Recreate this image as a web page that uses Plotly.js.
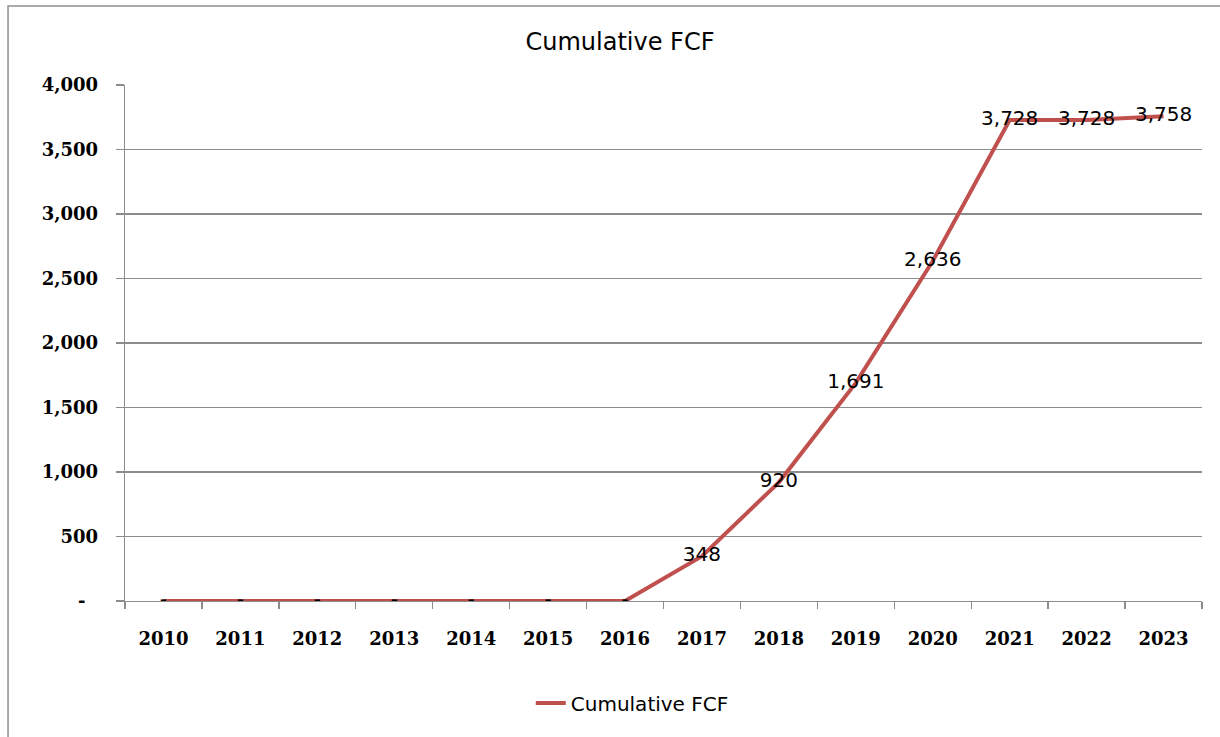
<!DOCTYPE html>
<html>
<head>
<meta charset="utf-8">
<script src="https://cdn.plot.ly/plotly-3.0.1.min.js"></script>
<style>
  html, body { margin: 0; padding: 0; background: #ffffff; }
  #chart { width: 1220px; height: 737px; }
</style>
</head>
<body>
<div id="chart"></div>
<script>
// Cumulative free cash flow by year
const years = ['2010', '2011', '2012', '2013', '2014', '2015', '2016',
               '2017', '2018', '2019', '2020', '2021', '2022', '2023'];
const cumulativeFCF = [0, 0, 0, 0, 0, 0, 0, 348, 920, 1691, 2636, 3728, 3728, 3758];

const yTickVals = [0, 500, 1000, 1500, 2000, 2500, 3000, 3500, 4000];
const yTickText = ['-\u00a0\u00a0', '500', '1,000', '1,500', '2,000', '2,500', '3,000', '3,500', '4,000'];

// Accounting-style labels: zero shows as a dash
const pointLabels = cumulativeFCF.map(v => v === 0 ? '-' : v.toLocaleString('en-US'));

const axisGrey = '#8c8c8c';
const tickFont = { family: 'DejaVu Serif, serif', size: 18, color: '#000000', weight: 'bold' };

const trace = {
  type: 'scatter',
  mode: 'lines+text',
  name: 'Cumulative FCF',
  x: years,
  y: cumulativeFCF,
  text: pointLabels,
  textposition: 'middle center',
  textfont: { family: 'DejaVu Sans, sans-serif', size: 20, color: '#000000' },
  line: { color: '#C0504D', width: 4 },
  cliponaxis: false,
  hoverinfo: 'x+y'
};

const layout = {
  width: 1220,
  height: 737,
  paper_bgcolor: '#ffffff',
  plot_bgcolor: '#ffffff',
  margin: { l: 125, r: 18, t: 85, b: 136 },
  title: {
    text: 'Cumulative FCF',
    font: { family: 'DejaVu Sans, sans-serif', size: 24, color: '#000000' },
    x: 0.4596, xref: 'paper', xanchor: 'center',
    y: 0.943, yref: 'container', yanchor: 'middle'
  },
  xaxis: {
    type: 'category',
    range: [-0.5, 13.5],
    showgrid: false,
    showline: true,
    linecolor: axisGrey,
    linewidth: 1.3,
    ticks: 'outside',
    tickson: 'boundaries',
    ticklen: 7,
    tickcolor: axisGrey,
    tickwidth: 1.3,
    ticklabelstandoff: 21,
    tickfont: tickFont,
    zeroline: false,
    fixedrange: true
  },
  yaxis: {
    range: [0, 4000],
    tickmode: 'array',
    tickvals: yTickVals,
    ticktext: yTickText,
    showgrid: true,
    gridcolor: axisGrey,
    gridwidth: 1.2,
    showline: true,
    linecolor: axisGrey,
    linewidth: 1.3,
    ticks: 'outside',
    ticklen: 8,
    tickcolor: axisGrey,
    tickwidth: 1.3,
    ticklabelstandoff: 14,
    tickfont: tickFont,
    zeroline: false,
    fixedrange: true
  },
  showlegend: true,
  legend: {
    orientation: 'h',
    x: 0.471, xanchor: 'center',
    y: -0.1977, yanchor: 'middle',
    font: { family: 'DejaVu Sans, sans-serif', size: 20, color: '#000000' },
    bgcolor: 'rgba(0,0,0,0)'
  },
  shapes: [{
    type: 'rect',
    xref: 'paper', yref: 'paper',
    x0: -0.1086, x1: 1.05,
    y0: -0.4, y1: 1.1531,
    line: { color: '#8f8f8f', width: 1.5 },
    fillcolor: 'rgba(0,0,0,0)',
    layer: 'below'
  }]
};

Plotly.newPlot('chart', [trace], layout, { displayModeBar: false, staticPlot: true });
</script>
</body>
</html>
